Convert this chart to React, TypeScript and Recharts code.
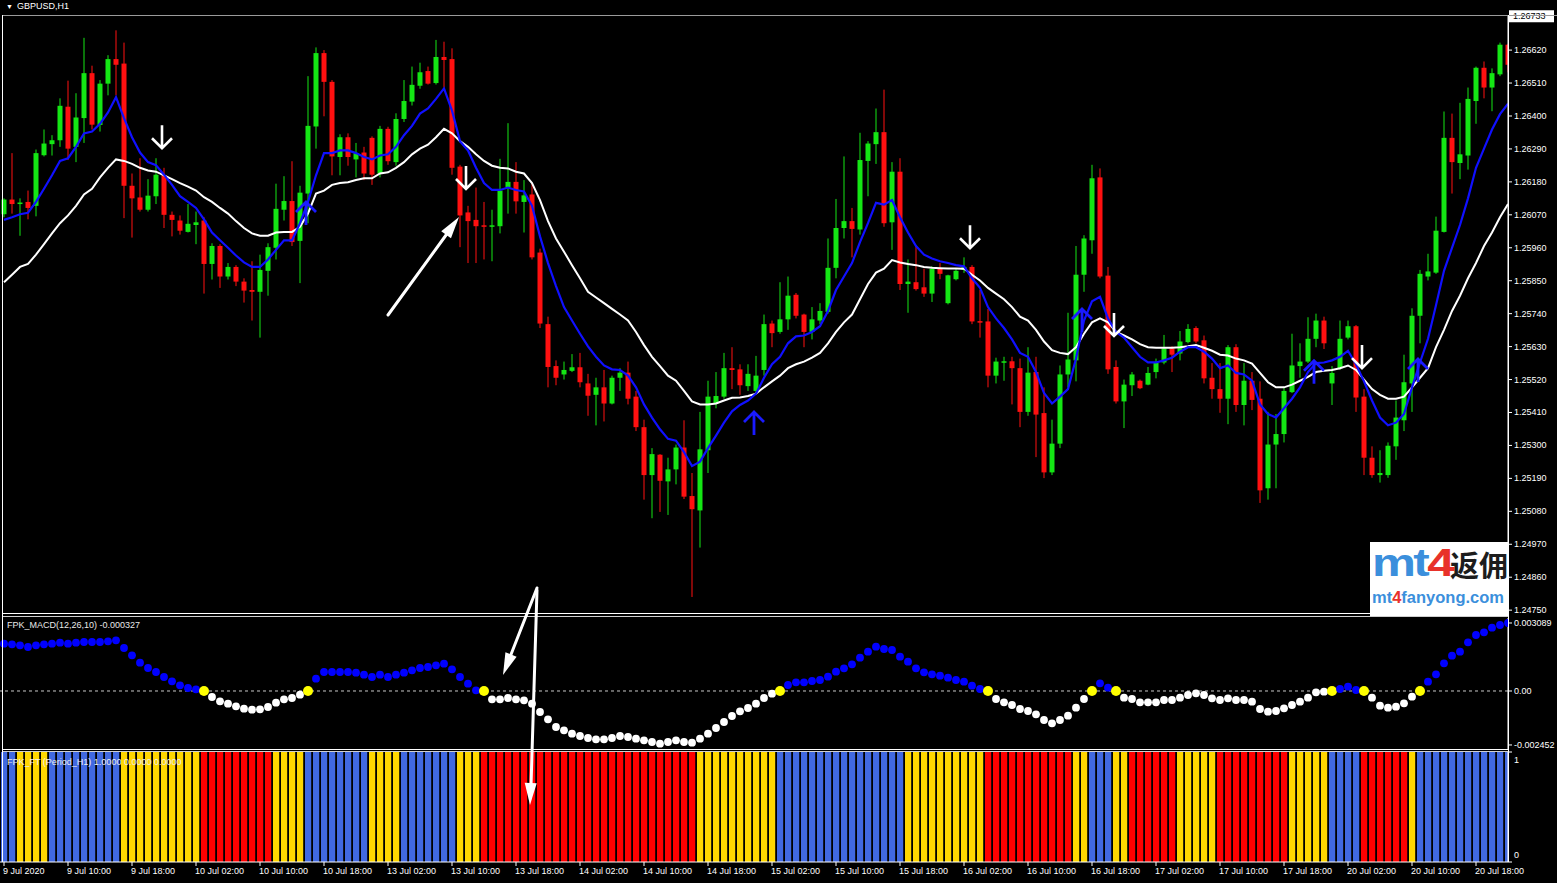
import React from 'react';
import { ComposedChart, Bar, Line, XAxis, YAxis, ReferenceLine } from 'recharts';

// ---------- DATA (GBPUSD H1) ----------
const openPrices = [
  1.26072, 1.26121, 1.26106, 1.26113, 1.26100, 1.26269, 1.26306, 1.26319, 1.26431, 1.26297,
  1.26393, 1.26543, 1.26370, 1.26508, 1.26590, 1.26575, 1.26167, 1.26128, 1.26087, 1.26132,
  1.26202, 1.26070, 1.26051, 1.26013, 1.26036, 1.26051, 1.25906, 1.25966, 1.25864, 1.25896,
  1.25847, 1.25819, 1.25813, 1.25883, 1.25960, 1.26087, 1.26116, 1.25983, 1.26141, 1.26365,
  1.26610, 1.26514, 1.26263, 1.26329, 1.26255, 1.26278, 1.26327, 1.26208, 1.26357, 1.26246,
  1.26390, 1.26448, 1.26501, 1.26550, 1.26510, 1.26597, 1.26590, 1.26231, 1.26078, 1.26053,
  1.26035, 1.26032, 1.26032, 1.26161, 1.26180, 1.26113, 1.26138, 1.25944, 1.25705, 1.25565,
  1.25537, 1.25549, 1.25561, 1.25507, 1.25469, 1.25494, 1.25440, 1.25526, 1.25543, 1.25463,
  1.25361, 1.25201, 1.25269, 1.25180, 1.25220, 1.25293, 1.25131, 1.25083, 1.25284, 1.25440,
  1.25463, 1.25558, 1.25554, 1.25498, 1.25482, 1.25552, 1.25707, 1.25679, 1.25721, 1.25803,
  1.25737, 1.25679, 1.25717, 1.25746, 1.25893, 1.26026, 1.26049, 1.26021, 1.26250, 1.26306,
  1.26346, 1.26045, 1.26214, 1.25839, 1.25845, 1.25828, 1.25807, 1.25890, 1.25775, 1.25855,
  1.25886, 1.25896, 1.25715, 1.25714, 1.25533, 1.25579, 1.25581, 1.25558, 1.25412, 1.25545,
  1.25408, 1.25210, 1.25306, 1.25537, 1.25584, 1.25870, 1.25985, 1.26195, 1.25867, 1.25562,
  1.25447, 1.25501, 1.25516, 1.25503, 1.25545, 1.25577, 1.25624, 1.25607, 1.25645, 1.25692,
  1.25651, 1.25526, 1.25488, 1.25456, 1.25628, 1.25435, 1.25516, 1.25456, 1.25157, 1.25303,
  1.25338, 1.25478, 1.25565, 1.25580, 1.25656, 1.25717, 1.25507, 1.25558, 1.25660, 1.25698,
  1.25463, 1.25259, 1.25201, 1.25201, 1.25297, 1.25384, 1.25507, 1.25733, 1.25864, 1.25877,
  1.26013, 1.26327, 1.26243, 1.26268, 1.26450, 1.26561, 1.26495, 1.26539, 1.26638,
];
const highPrices = [
  1.26125, 1.26276, 1.26125, 1.26151, 1.26288, 1.26355, 1.26336, 1.26459, 1.26518, 1.26476,
  1.26661, 1.26568, 1.26520, 1.26603, 1.26686, 1.26645, 1.26208, 1.26259, 1.26189, 1.26259,
  1.26227, 1.26081, 1.26068, 1.26106, 1.26081, 1.26062, 1.25975, 1.25972, 1.25909, 1.25902,
  1.25858, 1.25915, 1.25937, 1.25975, 1.26174, 1.26199, 1.26249, 1.26167, 1.26533, 1.26629,
  1.26620, 1.26520, 1.26339, 1.26342, 1.26310, 1.26297, 1.26332, 1.26367, 1.26364, 1.26409,
  1.26520, 1.26565, 1.26578, 1.26565, 1.26654, 1.26648, 1.26626, 1.26237, 1.26100, 1.26161,
  1.26113, 1.26087, 1.26257, 1.26376, 1.26246, 1.26186, 1.26176, 1.25957, 1.25730, 1.25584,
  1.25580, 1.25605, 1.25609, 1.25539, 1.25526, 1.25552, 1.25533, 1.25558, 1.25580, 1.25482,
  1.25386, 1.25291, 1.25271, 1.25259, 1.25303, 1.25384, 1.25208, 1.25412, 1.25516, 1.25545,
  1.25609, 1.25628, 1.25571, 1.25571, 1.25599, 1.25737, 1.25717, 1.25845, 1.25864, 1.25809,
  1.25740, 1.25762, 1.25775, 1.25991, 1.26123, 1.26265, 1.26093, 1.26344, 1.26316, 1.26425,
  1.26488, 1.26246, 1.26259, 1.25921, 1.25966, 1.25890, 1.25898, 1.25909, 1.25870, 1.25890,
  1.25928, 1.25902, 1.25819, 1.25756, 1.25593, 1.25596, 1.25596, 1.25590, 1.25628, 1.25596,
  1.25494, 1.25386, 1.25567, 1.25743, 1.25966, 1.26002, 1.26237, 1.26225, 1.25896, 1.25584,
  1.25520, 1.25545, 1.25520, 1.25562, 1.25590, 1.25669, 1.25631, 1.25682, 1.25705, 1.25698,
  1.25667, 1.25575, 1.25575, 1.25635, 1.25638, 1.25575, 1.25545, 1.25514, 1.25412, 1.25405,
  1.25494, 1.25673, 1.25641, 1.25728, 1.25740, 1.25730, 1.25565, 1.25717, 1.25717, 1.25702,
  1.25488, 1.25297, 1.25284, 1.25310, 1.25450, 1.25603, 1.25758, 1.25886, 1.25940, 1.26064,
  1.26415, 1.26408, 1.26444, 1.26495, 1.26565, 1.26582, 1.26559, 1.26645, 1.26641,
];
const lowPrices = [
  1.26062, 1.26074, 1.26000, 1.26055, 1.26065, 1.26265, 1.26268, 1.26297, 1.26253, 1.26246,
  1.26310, 1.26355, 1.26348, 1.26469, 1.26469, 1.26059, 1.25994, 1.26081, 1.26081, 1.26106,
  1.26026, 1.25998, 1.26004, 1.26011, 1.25972, 1.25807, 1.25854, 1.25826, 1.25854, 1.25832,
  1.25777, 1.25717, 1.25660, 1.25800, 1.25921, 1.26051, 1.25966, 1.25842, 1.26042, 1.26291,
  1.26399, 1.26202, 1.26202, 1.26234, 1.26195, 1.26186, 1.26170, 1.26195, 1.26237, 1.26234,
  1.26380, 1.26435, 1.26491, 1.26505, 1.26505, 1.26495, 1.26204, 1.25962, 1.25909, 1.25909,
  1.25921, 1.25915, 1.26008, 1.26074, 1.26074, 1.26011, 1.25921, 1.25692, 1.25494, 1.25501,
  1.25520, 1.25545, 1.25494, 1.25399, 1.25367, 1.25380, 1.25437, 1.25482, 1.25437, 1.25348,
  1.25119, 1.25057, 1.25078, 1.25068, 1.25170, 1.25121, 1.24794, 1.24959, 1.25208, 1.25424,
  1.25456, 1.25488, 1.25469, 1.25482, 1.25475, 1.25533, 1.25628, 1.25673, 1.25686, 1.25724,
  1.25628, 1.25654, 1.25705, 1.25740, 1.25858, 1.25991, 1.25928, 1.26004, 1.26132, 1.26240,
  1.26030, 1.25953, 1.25819, 1.25743, 1.25817, 1.25796, 1.25779, 1.25855, 1.25771, 1.25851,
  1.25876, 1.25705, 1.25660, 1.25494, 1.25507, 1.25516, 1.25437, 1.25361, 1.25399, 1.25261,
  1.25191, 1.25201, 1.25291, 1.25494, 1.25514, 1.25813, 1.25940, 1.25858, 1.25539, 1.25440,
  1.25358, 1.25465, 1.25488, 1.25501, 1.25524, 1.25571, 1.25545, 1.25584, 1.25641, 1.25641,
  1.25507, 1.25456, 1.25409, 1.25371, 1.25412, 1.25367, 1.25418, 1.25108, 1.25119, 1.25157,
  1.25310, 1.25475, 1.25526, 1.25575, 1.25628, 1.25622, 1.25435, 1.25552, 1.25654, 1.25412,
  1.25201, 1.25192, 1.25176, 1.25192, 1.25252, 1.25348, 1.25412, 1.25641, 1.25851, 1.25873,
  1.26011, 1.26141, 1.26189, 1.26221, 1.26374, 1.26459, 1.26416, 1.26533, 1.26546,
];
const closePrices = [
  1.26121, 1.26106, 1.26111, 1.26093, 1.26276, 1.26308, 1.26319, 1.26434, 1.26291, 1.26395,
  1.26543, 1.26371, 1.26508, 1.26590, 1.26571, 1.26167, 1.26125, 1.26087, 1.26134, 1.26204,
  1.26070, 1.26053, 1.26017, 1.26040, 1.26045, 1.25906, 1.25966, 1.25864, 1.25896, 1.25847,
  1.25817, 1.25813, 1.25886, 1.25962, 1.26090, 1.26116, 1.25979, 1.26144, 1.26367, 1.26610,
  1.26514, 1.26265, 1.26329, 1.26263, 1.26276, 1.26208, 1.26204, 1.26357, 1.26249, 1.26390,
  1.26450, 1.26504, 1.26546, 1.26508, 1.26597, 1.26587, 1.26227, 1.26068, 1.26049, 1.26032,
  1.26032, 1.26035, 1.26151, 1.26180, 1.26115, 1.26135, 1.25928, 1.25707, 1.25562, 1.25526,
  1.25552, 1.25561, 1.25511, 1.25466, 1.25494, 1.25440, 1.25526, 1.25543, 1.25456, 1.25361,
  1.25201, 1.25271, 1.25182, 1.25220, 1.25293, 1.25129, 1.25087, 1.25287, 1.25463, 1.25465,
  1.25558, 1.25552, 1.25501, 1.25539, 1.25533, 1.25705, 1.25675, 1.25721, 1.25800, 1.25733,
  1.25679, 1.25721, 1.25749, 1.25893, 1.26026, 1.26049, 1.26023, 1.26253, 1.26308, 1.26346,
  1.26042, 1.26214, 1.25839, 1.25847, 1.25822, 1.25807, 1.25890, 1.25873, 1.25868, 1.25883,
  1.25896, 1.25714, 1.25710, 1.25533, 1.25580, 1.25581, 1.25558, 1.25412, 1.25543, 1.25403,
  1.25210, 1.25306, 1.25537, 1.25587, 1.25870, 1.25991, 1.26192, 1.25864, 1.25554, 1.25447,
  1.25503, 1.25537, 1.25491, 1.25542, 1.25577, 1.25624, 1.25603, 1.25647, 1.25689, 1.25647,
  1.25524, 1.25488, 1.25456, 1.25628, 1.25435, 1.25516, 1.25452, 1.25150, 1.25303, 1.25338,
  1.25482, 1.25567, 1.25580, 1.25656, 1.25717, 1.25641, 1.25542, 1.25656, 1.25698, 1.25460,
  1.25259, 1.25201, 1.25208, 1.25299, 1.25393, 1.25511, 1.25733, 1.25873, 1.25881, 1.26017,
  1.26327, 1.26246, 1.26272, 1.26457, 1.26561, 1.26495, 1.26543, 1.26638, 1.26571,
];
// blue moving average
const maFast = [
  1.26053, 1.26062, 1.26072, 1.26077, 1.26113, 1.26157, 1.26202, 1.26250, 1.26259, 1.26297,
  1.26342, 1.26348, 1.26374, 1.26412, 1.26463, 1.26393, 1.26329, 1.26278, 1.26246, 1.26236,
  1.26204, 1.26170, 1.26132, 1.26113, 1.26093, 1.26055, 1.26011, 1.25985, 1.25960, 1.25934,
  1.25911, 1.25896, 1.25896, 1.25921, 1.25953, 1.25985, 1.25985, 1.26042, 1.26113, 1.26202,
  1.26276, 1.26276, 1.26285, 1.26285, 1.26276, 1.26263, 1.26255, 1.26268, 1.26272, 1.26297,
  1.26336, 1.26367, 1.26408, 1.26425, 1.26457, 1.26492, 1.26418, 1.26316, 1.26285, 1.26227,
  1.26176, 1.26153, 1.26153, 1.26161, 1.26153, 1.26148, 1.26100, 1.25998, 1.25909, 1.25832,
  1.25762, 1.25717, 1.25673, 1.25631, 1.25596, 1.25567, 1.25554, 1.25552, 1.25533, 1.25494,
  1.25437, 1.25393, 1.25354, 1.25322, 1.25316, 1.25278, 1.25231, 1.25246, 1.25291, 1.25333,
  1.25376, 1.25414, 1.25435, 1.25450, 1.25473, 1.25526, 1.25571, 1.25596, 1.25641, 1.25664,
  1.25667, 1.25679, 1.25698, 1.25749, 1.25819, 1.25864, 1.25909, 1.25979, 1.26042, 1.26110,
  1.26104, 1.26119, 1.26062, 1.26011, 1.25966, 1.25937, 1.25924, 1.25915, 1.25909, 1.25902,
  1.25898, 1.25858, 1.25826, 1.25762, 1.25724, 1.25692, 1.25654, 1.25609, 1.25596, 1.25545,
  1.25475, 1.25440, 1.25463, 1.25488, 1.25590, 1.25717, 1.25781, 1.25796, 1.25724, 1.25679,
  1.25660, 1.25628, 1.25596, 1.25577, 1.25577, 1.25584, 1.25593, 1.25613, 1.25628, 1.25628,
  1.25613, 1.25590, 1.25558, 1.25567, 1.25542, 1.25537, 1.25516, 1.25437, 1.25405, 1.25393,
  1.25424, 1.25456, 1.25494, 1.25545, 1.25575, 1.25577, 1.25584, 1.25596, 1.25616, 1.25571,
  1.25514, 1.25450, 1.25393, 1.25367, 1.25376, 1.25405, 1.25494, 1.25577, 1.25656, 1.25768,
  1.25883, 1.25960, 1.26036, 1.26125, 1.26227, 1.26291, 1.26355, 1.26406, 1.26441,
];
// white moving average
const maSlow = [
  1.25845, 1.25870, 1.25896, 1.25906, 1.25937, 1.25972, 1.26008, 1.26042, 1.26068, 1.26100,
  1.26138, 1.26157, 1.26195, 1.26227, 1.26255, 1.26250, 1.26240, 1.26227, 1.26218, 1.26214,
  1.26202, 1.26189, 1.26176, 1.26164, 1.26151, 1.26129, 1.26113, 1.26093, 1.26074, 1.26049,
  1.26026, 1.26008, 1.26000, 1.26000, 1.26011, 1.26013, 1.26013, 1.26030, 1.26074, 1.26141,
  1.26151, 1.26170, 1.26176, 1.26179, 1.26186, 1.26192, 1.26192, 1.26208, 1.26212, 1.26227,
  1.26246, 1.26272, 1.26291, 1.26304, 1.26329, 1.26357, 1.26342, 1.26316, 1.26297, 1.26272,
  1.26250, 1.26234, 1.26227, 1.26225, 1.26214, 1.26208, 1.26176, 1.26119, 1.26049, 1.25991,
  1.25947, 1.25902, 1.25858, 1.25813, 1.25794, 1.25775, 1.25756, 1.25737, 1.25717, 1.25679,
  1.25635, 1.25596, 1.25565, 1.25533, 1.25516, 1.25482, 1.25447, 1.25437, 1.25437, 1.25440,
  1.25450, 1.25459, 1.25460, 1.25465, 1.25473, 1.25494, 1.25514, 1.25533, 1.25558, 1.25571,
  1.25580, 1.25593, 1.25609, 1.25641, 1.25679, 1.25711, 1.25737, 1.25788, 1.25839, 1.25877,
  1.25890, 1.25919, 1.25911, 1.25906, 1.25902, 1.25896, 1.25893, 1.25892, 1.25891, 1.25891,
  1.25890, 1.25870, 1.25851, 1.25826, 1.25807, 1.25788, 1.25762, 1.25730, 1.25717, 1.25686,
  1.25647, 1.25618, 1.25609, 1.25605, 1.25628, 1.25673, 1.25711, 1.25724, 1.25711, 1.25679,
  1.25667, 1.25654, 1.25638, 1.25628, 1.25626, 1.25626, 1.25626, 1.25628, 1.25631, 1.25635,
  1.25626, 1.25616, 1.25603, 1.25600, 1.25590, 1.25584, 1.25573, 1.25542, 1.25511, 1.25494,
  1.25494, 1.25503, 1.25516, 1.25529, 1.25545, 1.25549, 1.25552, 1.25558, 1.25567, 1.25552,
  1.25520, 1.25488, 1.25469, 1.25456, 1.25456, 1.25463, 1.25494, 1.25526, 1.25558, 1.25628,
  1.25686, 1.25749, 1.25800, 1.25858, 1.25909, 1.25966, 1.26011, 1.26062, 1.26106,
];
const macdValues = [
  0.002150, 0.002120, 0.002074, 0.001999, 0.002074, 0.002120, 0.002150, 0.002196, 0.002150, 0.002196,
  0.002226, 0.002226, 0.002226, 0.002256, 0.002302, 0.001953, 0.001620, 0.001287, 0.001045, 0.000863,
  0.000636, 0.000439, 0.000257, 0.000136, 0.000076, 0, -0.000273, -0.000469, -0.000575, -0.000697,
  -0.000803, -0.000848, -0.000833, -0.000727, -0.000530, -0.000379, -0.000318, -0.000167, 0, 0.000560,
  0.000863, 0.000863, 0.000863, 0.000863, 0.000833, 0.000742, 0.000636, 0.000742, 0.000636, 0.000742,
  0.000833, 0.000939, 0.001045, 0.001090, 0.001166, 0.001242, 0.000984, 0.000636, 0.000333, 0.000030,
  0, -0.000379, -0.000379, -0.000318, -0.000379, -0.000424, -0.000575, -0.000954, -0.001287, -0.001635,
  -0.001787, -0.001938, -0.002044, -0.002135, -0.002196, -0.002196, -0.002135, -0.002044, -0.002090, -0.002165,
  -0.002241, -0.002317, -0.002392, -0.002317, -0.002241, -0.002317, -0.002347, -0.002165, -0.001938, -0.001681,
  -0.001408, -0.001136, -0.000924, -0.000772, -0.000575, -0.000318, -0.000121, 0, 0.000273, 0.000394,
  0.000394, 0.000454, 0.000500, 0.000651, 0.000878, 0.001030, 0.001211, 0.001514, 0.001787, 0.002014,
  0.001908, 0.001862, 0.001560, 0.001332, 0.001030, 0.000848, 0.000757, 0.000697, 0.000606, 0.000500,
  0.000424, 0.000242, 0.000091, 0, -0.000363, -0.000515, -0.000636, -0.000818, -0.000909, -0.001060,
  -0.001317, -0.001469, -0.001317, -0.001121, -0.000757, -0.000363, 0, 0.000348, 0.000151, 0,
  -0.000303, -0.000363, -0.000515, -0.000515, -0.000515, -0.000409, -0.000409, -0.000303, -0.000182, -0.000106,
  -0.000182, -0.000333, -0.000409, -0.000333, -0.000409, -0.000409, -0.000485, -0.000818, -0.000939, -0.000909,
  -0.000787, -0.000636, -0.000485, -0.000303, -0.000061, -0.000030, 0, 0.000091, 0.000197, 0.000045,
  0, -0.000303, -0.000666, -0.000757, -0.000712, -0.000560, -0.000257, 0, 0.000424, 0.000757,
  0.001257, 0.001605, 0.001787, 0.002211, 0.002544, 0.002665, 0.002877, 0.002998, 0.003089,
];
const macdCross = [25, 38, 60, 97, 123, 136, 139, 166, 170, 177];
// FPK_FT state per bar: B = blue, Y = yellow, R = red (run lengths)
const ftRuns: [string, number][] = [
  ['B', 2], ['Y', 4], ['B', 9], ['Y', 10], ['R', 9], ['Y', 4], ['B', 8], ['Y', 4], ['B', 7], ['Y', 3],
  ['R', 27], ['Y', 10], ['B', 16], ['Y', 10], ['R', 11], ['Y', 2], ['B', 3], ['Y', 2], ['R', 6], ['Y', 5],
  ['R', 9], ['Y', 5], ['B', 4], ['R', 6], ['Y', 1], ['B', 12],
];
const downSignalIdx = [20, 58, 121, 139, 170];
const downSignalPrice = [1.26329, 1.26193, 1.25995, 1.25702, 1.25595];
const upSignalIdx = [38, 94, 135, 164, 177];
const upSignalPrice = [1.26076, 1.25375, 1.25719, 1.25546, 1.25552];

const timeTickIdx = [0, 8, 16, 24, 32, 40, 48, 56, 64, 72, 80, 88, 96, 104, 112, 120, 128, 136, 144, 152, 160, 168, 176, 184];
const timeLabels = [
  '9 Jul 2020', '9 Jul 10:00', '9 Jul 18:00', '10 Jul 02:00', '10 Jul 10:00', '10 Jul 18:00',
  '13 Jul 02:00', '13 Jul 10:00', '13 Jul 18:00', '14 Jul 02:00', '14 Jul 10:00', '14 Jul 18:00',
  '15 Jul 02:00', '15 Jul 10:00', '15 Jul 18:00', '16 Jul 02:00', '16 Jul 10:00', '16 Jul 18:00',
  '17 Jul 02:00', '17 Jul 10:00', '17 Jul 18:00', '20 Jul 02:00', '20 Jul 10:00', '20 Jul 18:00',
];
const priceTicks = [
  1.2475, 1.2486, 1.2497, 1.2508, 1.2519, 1.253, 1.2541, 1.2552, 1.2563,
  1.2574, 1.2585, 1.2596, 1.2607, 1.2618, 1.2629, 1.264, 1.2651, 1.2662,
];
const currentPrice = 1.26733;
const macdTicks = [-0.002452, 0, 0.003089];
const ftTicks = [0, 1];

// ---------- STYLE ----------
const FONT = "'Liberation Sans', Arial, sans-serif";
const GREEN = '#14e614';
const RED = '#ff1010';
const FT_COLORS: Record<string, string> = { B: '#4169e1', Y: '#ffd700', R: '#ff0000' };
const X_DOMAIN: [number, number] = [-0.5, 188];

const ftStates = ftRuns.flatMap(([s, n]) => Array.from({ length: n }, () => s));

const rows = openPrices.map((o, i) => {
  const dk = downSignalIdx.indexOf(i);
  const uk = upSignalIdx.indexOf(i);
  return {
    i,
    o,
    h: highPrices[i],
    l: lowPrices[i],
    c: closePrices[i],
    fast: maFast[i],
    slow: maSlow[i],
    macd: macdValues[i],
    cross: macdCross.includes(i),
    ft: 1,
    fts: ftStates[i],
    dn: dk >= 0 ? downSignalPrice[dk] : null,
    up: uk >= 0 ? upSignalPrice[uk] : null,
  };
});

const Candle = (props: any) => {
  const { x, y, width, height, payload } = props;
  if (x == null || y == null || !payload) return <g />;
  const top = Math.min(y, y + height);
  const bot = Math.max(y, y + height);
  const span = payload.h - payload.l;
  const py = (v: number) => (span > 0 ? top + ((payload.h - v) / span) * (bot - top) : top);
  const color = payload.c >= payload.o ? GREEN : RED;
  const yo = py(payload.o);
  const yc = py(payload.c);
  const bt = Math.min(yo, yc);
  const bb = Math.max(yo, yc);
  const cx = x + width / 2;
  return (
    <g>
      <rect x={cx - 0.5} y={top} width={1} height={Math.max(bot - top, 1)} fill={color} />
      <rect x={cx - 2.5} y={bt} width={5} height={Math.max(bb - bt, 1.5)} fill={color} />
    </g>
  );
};

const DownArrow = (p: any) => {
  if (!p.payload || p.payload.dn == null || p.cy == null || isNaN(p.cy)) return <g key={`dn${p.index}`} />;
  const cx = p.cx - 2;
  const cy = p.cy;
  return (
    <path
      key={`dn${p.index}`}
      d={`M${cx},${cy - 12} L${cx},${cy + 11} M${cx - 10},${cy + 1} L${cx},${cy + 11} L${cx + 10},${cy + 1}`}
      stroke="#ffffff"
      strokeWidth={2.6}
      fill="none"
    />
  );
};

const UpArrow = (p: any) => {
  if (!p.payload || p.payload.up == null || p.cy == null || isNaN(p.cy)) return <g key={`up${p.index}`} />;
  const cx = p.cx - 2;
  const cy = p.cy;
  return (
    <path
      key={`up${p.index}`}
      d={`M${cx},${cy + 12} L${cx},${cy - 11} M${cx - 10},${cy - 1} L${cx},${cy - 11} L${cx + 10},${cy - 1}`}
      stroke="#1a1aff"
      strokeWidth={2.8}
      fill="none"
    />
  );
};

const MacdDot = (p: any) => {
  if (!p.payload || p.cy == null || isNaN(p.cy)) return <g key={`m${p.index}`} />;
  const v = p.payload.macd;
  const cross = p.payload.cross;
  const fill = cross ? '#ffff00' : v > 0 ? '#0000ff' : '#ffffff';
  return <circle key={`m${p.index}`} cx={p.cx} cy={p.cy} r={cross ? 5 : 3.9} fill={fill} />;
};

const FtBar = (props: any) => {
  const { x, y, width, height, payload } = props;
  if (x == null || !payload) return <g />;
  return <rect x={x + 1} y={y} width={width - 1} height={height} fill={FT_COLORS[payload.fts]} />;
};

const PriceTick = (props: any) => {
  const { x, y, payload } = props;
  const v = payload.value;
  if (Math.abs(v - currentPrice) < 1e-7) {
    return (
      <g>
        <rect x={x - 5} y={y - 6} width={45} height={12} fill="#ffffff" />
        <text x={x - 1} y={y} dominantBaseline="central" fill="#000" fontSize={9} fontFamily={FONT}>
          {v.toFixed(5)}
        </text>
      </g>
    );
  }
  return (
    <text x={x} y={y} dominantBaseline="central" fill="#ffffff" fontSize={9} fontFamily={FONT}>
      {v.toFixed(5)}
    </text>
  );
};

const MacdTick = (props: any) => {
  const { x, y, payload } = props;
  const v = payload.value;
  return (
    <text x={x} y={y} dominantBaseline="central" fill="#ffffff" fontSize={9} fontFamily={FONT}>
      {v === 0 ? '0.00' : v.toFixed(6)}
    </text>
  );
};

const FtTick = (props: any) => {
  const { x, y, payload } = props;
  const v = payload.value;
  return (
    <text x={x} y={y + (v === 1 ? 8 : -7)} dominantBaseline="central" fill="#ffffff" fontSize={9} fontFamily={FONT}>
      {String(v)}
    </text>
  );
};

const TimeTick = (props: any) => {
  const { x, y, payload } = props;
  const k = timeTickIdx.indexOf(payload.value);
  return (
    <text x={x - 1} y={y + 3} dominantBaseline="central" fill="#ffffff" fontSize={9} fontFamily={FONT} textAnchor="start">
      {k >= 0 ? timeLabels[k] : ''}
    </text>
  );
};

const arrowHead = (tx: number, ty: number, fx: number, fy: number, len: number, half: number) => {
  const dx = tx - fx;
  const dy = ty - fy;
  const L = Math.hypot(dx, dy);
  const ux = dx / L;
  const uy = dy / L;
  const bx = tx - ux * len;
  const by = ty - uy * len;
  const nx = -uy;
  const ny = ux;
  return `${tx},${ty} ${bx + nx * half},${by + ny * half} ${bx - nx * half},${by - ny * half}`;
};

export default function App() {
  return (
    <div
      style={{
        position: 'absolute',
        left: 0,
        top: 0,
        width: 1557,
        height: 883,
        background: '#000',
        overflow: 'hidden',
        fontFamily: FONT,
      }}
    >
      {/* main price window */}
      <div style={{ position: 'absolute', left: 0, top: 0 }}>
        <ComposedChart width={1557} height={614} data={rows} margin={{ top: 15, right: 0, bottom: 1, left: 0 }}>
          <XAxis type="number" dataKey="i" domain={X_DOMAIN} ticks={timeTickIdx} allowDataOverflow hide />
          <YAxis
            orientation="right"
            width={49}
            domain={[1.247405, 1.267372]}
            allowDataOverflow
            ticks={[...priceTicks, currentPrice]}
            interval={0}
            axisLine={{ stroke: '#ffffff' }}
            tickLine={{ stroke: '#ffffff' }}
            tickSize={4}
            tickMargin={2}
            tick={PriceTick}
          />
          <Bar dataKey={(d: any) => [d.l, d.h]} barSize={6} shape={Candle} isAnimationActive={false} />
          <Line type="linear" dataKey="slow" stroke="#ffffff" strokeWidth={2} dot={false} isAnimationActive={false} />
          <Line type="linear" dataKey="fast" stroke="#1010ff" strokeWidth={2.2} dot={false} isAnimationActive={false} />
          <Line dataKey="dn" stroke="none" dot={DownArrow} isAnimationActive={false} />
          <Line dataKey="up" stroke="none" dot={UpArrow} isAnimationActive={false} />
        </ComposedChart>
      </div>

      {/* MACD window */}
      <div style={{ position: 'absolute', left: 0, top: 614 }}>
        <ComposedChart width={1557} height={137} data={rows} margin={{ top: 4, right: 0, bottom: 1, left: 0 }}>
          <XAxis type="number" dataKey="i" domain={X_DOMAIN} ticks={timeTickIdx} allowDataOverflow hide />
          <YAxis
            orientation="right"
            width={49}
            domain={[-0.002681, 0.003316]}
            allowDataOverflow
            ticks={macdTicks}
            interval={0}
            axisLine={{ stroke: '#ffffff' }}
            tickLine={{ stroke: '#ffffff' }}
            tickSize={4}
            tickMargin={2}
            tick={MacdTick}
          />
          <ReferenceLine y={0} stroke="#c8c8c8" strokeDasharray="3 3" strokeWidth={1} />
          <Line dataKey="macd" stroke="none" dot={MacdDot} isAnimationActive={false} />
        </ComposedChart>
      </div>

      {/* FPK_FT window */}
      <div style={{ position: 'absolute', left: 0, top: 751 }}>
        <ComposedChart width={1557} height={132} data={rows} margin={{ top: 1, right: 0, bottom: 0, left: 0 }}>
          <XAxis
            type="number"
            dataKey="i"
            domain={X_DOMAIN}
            ticks={timeTickIdx}
            interval={0}
            allowDataOverflow
            height={21}
            axisLine={{ stroke: '#ffffff' }}
            tickLine={{ stroke: '#ffffff' }}
            tickSize={4}
            tickMargin={2}
            tick={TimeTick}
          />
          <YAxis
            orientation="right"
            width={49}
            domain={[0, 1]}
            allowDataOverflow
            ticks={ftTicks}
            interval={0}
            axisLine={{ stroke: '#ffffff' }}
            tickLine={{ stroke: '#ffffff' }}
            tickSize={4}
            tickMargin={2}
            tick={FtTick}
          />
          <Bar dataKey="ft" barSize={8} shape={FtBar} isAnimationActive={false} />
        </ComposedChart>
      </div>

      {/* window frames and annotations */}
      <svg width={1557} height={883} style={{ position: 'absolute', left: 0, top: 0, pointerEvents: 'none' }}>
        <line x1={3} y1={15.5} x2={1557} y2={15.5} stroke="#9a9a9a" strokeWidth={1} />
        <line x1={2.5} y1={15} x2={2.5} y2={862} stroke="#ffffff" strokeWidth={1} />
        <line x1={1508.5} y1={15} x2={1508.5} y2={862} stroke="#ffffff" strokeWidth={1} />
        <line x1={3} y1={613.5} x2={1508} y2={613.5} stroke="#ffffff" strokeWidth={1} />
        <line x1={3} y1={616.5} x2={1508} y2={616.5} stroke="#cfcfcf" strokeWidth={1} />
        <line x1={3} y1={749.5} x2={1508} y2={749.5} stroke="#ffffff" strokeWidth={1} />
        <line x1={3} y1={751.5} x2={1508} y2={751.5} stroke="#cfcfcf" strokeWidth={1} />

        {/* hand-drawn annotation arrows */}
        <line x1={388} y1={315} x2={449} y2={231} stroke="#ffffff" strokeWidth={3} strokeLinecap="round" />
        <polygon points={arrowHead(459, 217, 388, 315, 22, 6)} fill="#ffffff" />
        <line x1={537} y1={588} x2={510} y2={657} stroke="#ffffff" strokeWidth={3} strokeLinecap="round" />
        <polygon points={arrowHead(503, 675, 537, 588, 22, 6)} fill="#ffffff" />
        <line x1={537} y1={590} x2={531} y2={786} stroke="#ffffff" strokeWidth={3} strokeLinecap="round" />
        <polygon points={arrowHead(530, 805, 537, 590, 22, 6)} fill="#ffffff" />
      </svg>

      {/* titles */}
      <div style={{ position: 'absolute', left: 6, top: 0, color: '#fff', fontSize: 9, lineHeight: '13px', whiteSpace: 'nowrap' }}>
        <span style={{ fontSize: 7, marginRight: 4 }}>▼</span>GBPUSD,H1
      </div>
      <div style={{ position: 'absolute', left: 7, top: 619, color: '#e8e8e8', fontSize: 9, lineHeight: '12px', whiteSpace: 'nowrap' }}>
        FPK_MACD(12,26,10) -0.000327
      </div>
      <div style={{ position: 'absolute', left: 7, top: 756, color: '#eeeeee', fontSize: 9, lineHeight: '12px', whiteSpace: 'nowrap' }}>
        FPK_FT (Period_H1) 1.0000 0.0000 0.0000
      </div>

      {/* watermark */}
      <div style={{ position: 'absolute', left: 1370, top: 542, width: 138, height: 74, background: '#ffffff', overflow: 'hidden' }}>
        <div
          style={{
            position: 'absolute',
            left: 2,
            top: 1,
            fontSize: 38,
            fontWeight: 'bold',
            fontFamily: FONT,
            lineHeight: '40px',
            transform: 'scaleX(1.3)',
            transformOrigin: 'left top',
            whiteSpace: 'nowrap',
            letterSpacing: -2,
          }}
        >
          <span style={{ color: '#3b8fdc' }}>mt</span>
          <span style={{ color: '#e8322a' }}>4</span>
        </div>
        <div
          style={{
            position: 'absolute',
            left: 80,
            top: 5,
            fontSize: 29,
            fontWeight: 'bold',
            fontFamily: "'Noto Sans CJK SC', sans-serif",
            lineHeight: '34px',
            color: '#1c1c1c',
            whiteSpace: 'nowrap',
          }}
        >
          返佣
        </div>
        <div
          style={{
            position: 'absolute',
            left: 2,
            top: 45,
            fontSize: 16.5,
            fontWeight: 'bold',
            fontFamily: FONT,
            lineHeight: '20px',
            color: '#3b8fdc',
            whiteSpace: 'nowrap',
          }}
        >
          mt<span style={{ color: '#e8322a' }}>4</span>fanyong.com
        </div>
      </div>
    </div>
  );
}
